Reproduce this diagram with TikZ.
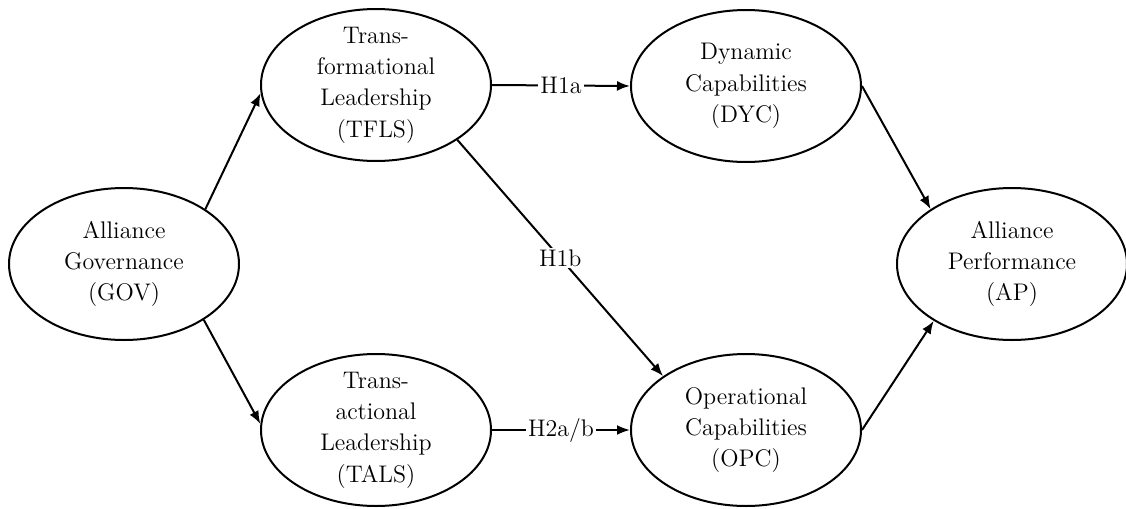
\documentclass[tikz,border=0pt]{standalone}
\usetikzlibrary{shapes.geometric, arrows.meta}

\begin{document}
\begin{tikzpicture}[x=0.5pt, y=-0.5pt, line width=1pt,
    construct/.style={draw, ellipse, minimum width=115pt, minimum height=76pt, inner xsep=0pt,
      inner ysep=-3pt, align=center, font=\fontsize{12}{15.7}\selectfont},
    path/.style={-{Latex[length=6.5pt, width=5pt]}},
    hyp/.style={fill=white, inner sep=1pt, font=\fontsize{12}{15.7}\selectfont}]
    \useasboundingbox (0,0) rectangle (1126,509);
    \node[construct] (gov)  at (124,264)  {Alliance\\Governance\\(GOV)};
    \node[construct] (tfls) at (376,85)   {Trans-\\formational\\Leadership\\(TFLS)};
    \node[construct] (tals) at (376,430)  {Trans-\\actional\\Leadership\\(TALS)};
    \node[construct] (dyc)  at (746,86)   {Dynamic\\Capabilities\\(DYC)};
    \node[construct] (opc)  at (746,430)  {Operational\\Capabilities\\(OPC)};
    \node[construct] (ap)   at (1012,264) {Alliance\\Performance\\(AP)};
    \draw[path] (gov.34) -- (tfls.184);
    \draw[path] (gov.-35) -- (tals.177);
    \draw[path] (tfls.east) -- node[hyp]{H1a} (dyc.west);
    \draw[path] (tfls.-34) -- node[hyp]{H1b} (opc.147);
    \draw[path] (tals.east) -- node[hyp]{H2a/b} (opc.west);
    \draw[path] (dyc.east) -- (ap.146);
    \draw[path] (opc.east) -- (ap.216);
  \end{tikzpicture}
\end{document}
